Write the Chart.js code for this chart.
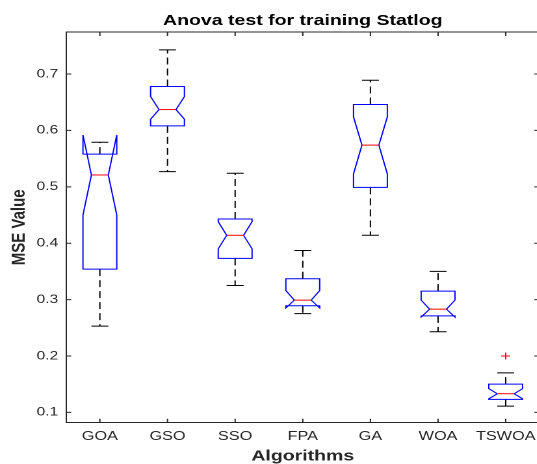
<!DOCTYPE html>
<html>
<head>
<meta charset="utf-8">
<script src="https://cdn.jsdelivr.net/npm/chart.js@4/dist/chart.umd.min.js"></script>
<style>
    html, body { margin: 0; padding: 0; overflow: hidden; background: #fff; }
    /* the figure is laid out narrow and stretched sideways, like the exported plot */
    #wrap { width: 420px; height: 464px; transform: scaleX(1.3); transform-origin: 0 0; }
</style>
</head>
<body>
<div id="wrap"><canvas id="chart" width="420" height="464"></canvas></div>
<script>
const algorithms = ["GOA", "GSO", "SSO", "FPA", "GA", "WOA", "TSWOA"];

const lowerWhisker = [0.253, 0.527, 0.325, 0.275, 0.414, 0.243, 0.111];
const lowerQuartile = [0.354, 0.608, 0.373, 0.289, 0.499, 0.271, 0.123];
const medians = [0.521, 0.637, 0.414, 0.299, 0.574, 0.283, 0.133];
const upperQuartile = [0.558, 0.678, 0.443, 0.337, 0.646, 0.315, 0.150];
const upperWhisker = [0.579, 0.743, 0.524, 0.387, 0.689, 0.350, 0.170];
const notchLow = [0.450, 0.620, 0.390, 0.285, 0.523, 0.269, 0.124];
const notchHigh = [0.592, 0.660, 0.438, 0.316, 0.624, 0.299, 0.142];
const outliers = [null, null, null, null, null, null, 0.200];

const yTicks = [0.1, 0.2, 0.3, 0.4, 0.5, 0.6, 0.7];

const axisColor = "#262626";
const fontFamily = "'Liberation Sans', Arial, Helvetica, sans-serif";

// notched boxes, whiskers and medians, placed with the chart's own scales
var boxPlot = {
    id: "boxPlot",
    afterDatasetsDraw: chart => {
        const ctx = chart.ctx;
        const xs = chart.scales.x;
        const ys = chart.scales.y;
        const step = xs.getPixelForValue(1) - xs.getPixelForValue(0);
        const half = step * 0.25;
        const inner = step * 0.125;
        const py = v => ys.getPixelForValue(v);

        algorithms.forEach((name, i) => {
            const x = xs.getPixelForValue(i);
            ctx.save();
            ctx.lineWidth = 1;

            // dashed whiskers
            ctx.strokeStyle = "#000";
            ctx.setLineDash([7, 4]);
            ctx.beginPath();
            ctx.moveTo(x, py(upperQuartile[i]));
            ctx.lineTo(x, py(upperWhisker[i]));
            ctx.moveTo(x, py(lowerQuartile[i]));
            ctx.lineTo(x, py(lowerWhisker[i]));
            ctx.stroke();

            // whisker caps
            ctx.setLineDash([]);
            ctx.beginPath();
            ctx.moveTo(x - inner, py(upperWhisker[i]));
            ctx.lineTo(x + inner, py(upperWhisker[i]));
            ctx.moveTo(x - inner, py(lowerWhisker[i]));
            ctx.lineTo(x + inner, py(lowerWhisker[i]));
            ctx.stroke();

            // box outline with the notch round the median
            ctx.strokeStyle = "#0000ff";
            ctx.beginPath();
            ctx.moveTo(x - half, py(lowerQuartile[i]));
            ctx.lineTo(x - half, py(notchLow[i]));
            ctx.lineTo(x - inner, py(medians[i]));
            ctx.lineTo(x - half, py(notchHigh[i]));
            ctx.lineTo(x - half, py(upperQuartile[i]));
            ctx.lineTo(x + half, py(upperQuartile[i]));
            ctx.lineTo(x + half, py(notchHigh[i]));
            ctx.lineTo(x + inner, py(medians[i]));
            ctx.lineTo(x + half, py(notchLow[i]));
            ctx.lineTo(x + half, py(lowerQuartile[i]));
            ctx.closePath();
            ctx.stroke();

            // median
            ctx.strokeStyle = "#ff0000";
            ctx.beginPath();
            ctx.moveTo(x - inner, py(medians[i]));
            ctx.lineTo(x + inner, py(medians[i]));
            ctx.stroke();
            ctx.restore();
        });
    }
};

// top/right frame lines and tick marks pointing into the plot
var axisFrame = {
    id: "axisFrame",
    afterDraw: chart => {
        const ctx = chart.ctx;
        const area = chart.chartArea;
        const xs = chart.scales.x;
        const ys = chart.scales.y;
        ctx.save();
        ctx.strokeStyle = axisColor;
        ctx.lineWidth = 1;
        ctx.beginPath();
        ctx.moveTo(area.left, area.top);
        ctx.lineTo(area.right, area.top);
        ctx.lineTo(area.right, area.bottom);
        algorithms.forEach((name, i) => {
            const x = xs.getPixelForValue(i);
            ctx.moveTo(x, area.bottom);
            ctx.lineTo(x, area.bottom - 4);
            ctx.moveTo(x, area.top);
            ctx.lineTo(x, area.top + 4);
        });
        yTicks.forEach(v => {
            const y = ys.getPixelForValue(v);
            ctx.moveTo(area.left, y);
            ctx.lineTo(area.left + 4, y);
            ctx.moveTo(area.right, y);
            ctx.lineTo(area.right - 4, y);
        });
        ctx.stroke();
        ctx.restore();
    }
};

var ctx = document.getElementById("chart").getContext("2d");
var chart = new Chart(ctx, {
    type: "line",
    data: {
        labels: algorithms,
        datasets: [{
            label: "Outliers",
            data: outliers,
            showLine: false,
            pointStyle: "cross",
            pointRadius: 3.5,
            pointBorderWidth: 1,
            borderColor: "#ff0000",
            backgroundColor: "#ff0000"
        }]
    },
    options: {
        responsive: false,
        devicePixelRatio: 2,
        animation: false,
        events: [],
        layout: { padding: { left: 0, right: 2.8, top: 0, bottom: 0 } },
        plugins: {
            legend: { display: false },
            tooltip: { enabled: false },
            title: {
                display: true,
                text: "Anova test for training Statlog",
                color: "#000",
                fullSize: false,
                font: { family: fontFamily, size: 15, weight: "bold" },
                padding: { top: 12, bottom: 2 }
            }
        },
        scales: {
            x: {
                type: "category",
                offset: true,
                afterFit: scale => { scale.height = 41.3; },
                grid: { display: false, drawTicks: false },
                border: { display: true, color: axisColor, width: 1 },
                ticks: {
                    color: axisColor,
                    padding: 6.3,
                    maxRotation: 0,
                    autoSkip: false,
                    font: { family: fontFamily, size: 12.5 }
                },
                title: {
                    display: true,
                    text: "Algorithms",
                    color: axisColor,
                    font: { family: fontFamily, size: 15, weight: "bold", lineHeight: 1 },
                    padding: { top: 0, bottom: 0 }
                }
            },
            y: {
                min: 0.0816,
                max: 0.7746,
                afterFit: scale => { scale.width = 50.8; },
                afterBuildTicks: scale => { scale.ticks = yTicks.map(v => ({ value: v })); },
                grid: { display: false, drawTicks: false },
                border: { display: true, color: axisColor, width: 1 },
                ticks: {
                    color: axisColor,
                    padding: 6,
                    font: { family: fontFamily, size: 12 },
                    callback: v => v.toFixed(1)
                },
                title: {
                    display: true,
                    text: "MSE Value",
                    color: axisColor,
                    font: { family: fontFamily, size: 15, weight: "bold", lineHeight: 1 },
                    padding: { top: 7.5, bottom: 0 }
                }
            }
        }
    },
    plugins: [boxPlot, axisFrame]
});
</script>
</body>
</html>
